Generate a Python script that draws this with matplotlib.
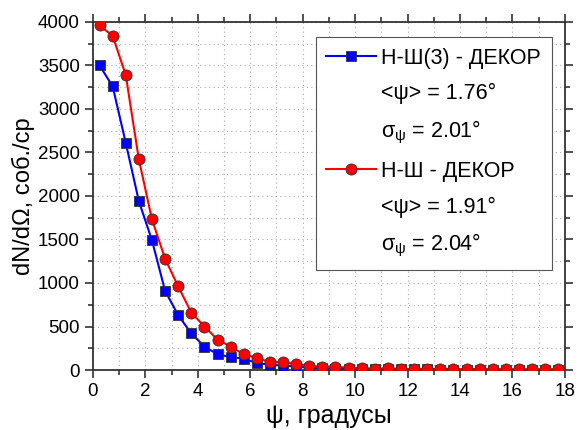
import matplotlib
matplotlib.use("Agg")
import matplotlib.pyplot as plt
from matplotlib.lines import Line2D
from matplotlib.ticker import MultipleLocator

plt.rcParams['font.family'] = ['Liberation Sans', 'DejaVu Sans']
plt.rcParams['mathtext.fontset'] = 'custom'
plt.rcParams['mathtext.rm'] = 'Liberation Sans'
plt.rcParams['mathtext.it'] = 'Liberation Sans'

# bin centres, degrees
psi = [0.25 + 0.5 * i for i in range(36)]

# Н-Ш(3) - ДЕКОР
ns3 = [3500, 3260, 2610, 1940, 1490, 910, 630, 420, 270, 180, 150, 130,
       80, 60, 50, 40, 25, 20, 15, 12, 10, 10, 8, 8, 6, 6, 5, 5, 5, 4,
       4, 4, 3, 3, 3, 3]
# Н-Ш - ДЕКОР
ns = [3960, 3840, 3390, 2420, 1730, 1280, 960, 660, 500, 350, 270, 180,
      140, 90, 90, 70, 45, 40, 40, 25, 20, 15, 20, 12, 12, 10, 15, 10,
      10, 10, 8, 8, 8, 8, 8, 8]

labels = ["Н-Ш(3) - ДЕКОР", "Н-Ш - ДЕКОР"]
stats = [("1.76", "2.01"), ("1.91", "2.04")]

fig = plt.figure(figsize=(5.79, 4.30), dpi=100)
ax = fig.add_axes([0.1606, 0.1395, 0.815, 0.8095])

ax.plot(psi, ns3, color="blue", lw=1.5, marker="s", ms=7,
        mfc="blue", mec="#333333", mew=0.6, zorder=3)
ax.plot(psi, ns, color="red", lw=1.5, marker="o", ms=8,
        mfc="red", mec="#333333", mew=0.6, zorder=4)

ax.set_xlim(0, 18)
ax.set_ylim(0, 4000)
ax.xaxis.set_major_locator(MultipleLocator(2))
ax.xaxis.set_minor_locator(MultipleLocator(1))
ax.yaxis.set_major_locator(MultipleLocator(500))
ax.yaxis.set_minor_locator(MultipleLocator(250))
ax.grid(True, which="both", ls=(0, (1, 3)), color="#aaaaaa", lw=0.8)
ax.tick_params(which="both", direction="out", top=True, right=True,
               labelsize=13.5, width=1.2, color="#333333")
ax.tick_params(which="major", length=6)
ax.tick_params(which="minor", length=3.5)
for s in ax.spines.values():
    s.set_linewidth(1.3)
    s.set_color("#333333")

ax.set_xlabel("ψ, градусы", fontsize=18, labelpad=3)
ax.set_ylabel("dN/dΩ, соб./ср", fontsize=17, labelpad=2)

blank = Line2D([], [], lw=0, marker=None)
handles = [
    Line2D([], [], color="blue", lw=1.5, marker="s", ms=7, mfc="blue", mec="#333333", mew=0.6),
    blank, blank,
    Line2D([], [], color="red", lw=1.5, marker="o", ms=8, mfc="red", mec="#333333", mew=0.6),
    blank, blank,
]
texts = []
for lab, (m, sg) in zip(labels, stats):
    texts += [lab, "<ψ> = " + m + "°", r"$\sigma_{\psi}$ = " + sg + "°"]
leg = ax.legend(handles, texts, loc="upper right", bbox_to_anchor=(0.9725, 0.957),
                borderaxespad=0, fontsize=15.5, handlelength=2.3, handletextpad=0.25,
                labelspacing=0.68, fancybox=False, framealpha=1,
                edgecolor="#555555", borderpad=0.5)
leg.get_frame().set_linewidth(0.8)

fig.savefig("out.png", dpi=100)
